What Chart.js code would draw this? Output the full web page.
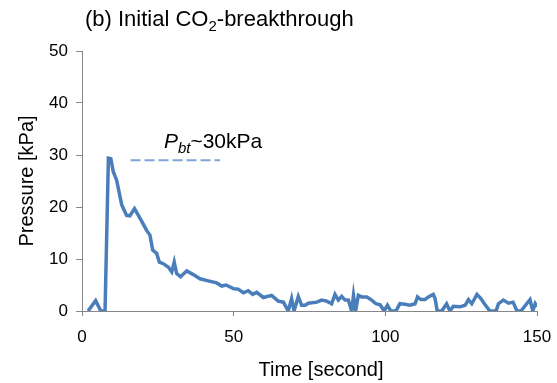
<!DOCTYPE html>
<html>
<head>
<meta charset="utf-8">
<script src="https://cdn.jsdelivr.net/npm/chart.js@4/dist/chart.umd.min.js"></script>
<style>
  html, body { margin: 0; padding: 0; background: #fff; }
  #chart { display: block; }
</style>
</head>
<body>
<canvas id="chart" width="557" height="383"></canvas>
<script>
// Pressure trace (time in s, pressure in kPa)
const timeSec = [
  2, 4.5, 6.2, 7.6, 8.7, 9.5, 10.3, 11.4, 13.1, 14.7,
  15.8, 17.3, 18.6, 20.2, 21.3, 22.4, 23.3, 24.6, 25.5, 26.8,
  28.5, 29.6, 30.4, 31.2, 32.5, 34.5, 36.7, 38.9, 41.6, 44.4,
  46.1, 47.5, 49.9, 51.5, 53.2, 54.8, 56.3, 57.6, 59.8, 62.5,
  64.7, 66.4, 68.0, 69.1, 69.9, 71.3, 72.4, 73.6, 74.6, 77.4,
  79.0, 80.7, 82.3, 83.4, 84.5, 85.6, 86.7, 87.8, 88.9, 89.5,
  90.2, 91.1, 92.2, 93.9, 95.5, 96.9, 98.3, 99.6, 100.7, 101.8,
  103.5, 104.8, 106.5, 108.1, 109.8, 110.6, 111.7, 113.1, 114.2, 115.8,
  116.4, 117.1, 118.6, 120.2, 121.3, 122.4, 124.6, 126.3, 127.4, 128.5,
  130.2, 131.5, 132.9, 133.8, 134.5, 136.5, 137.3, 138.9, 140.6, 142.1,
  143.4, 144.7, 146.6, 147.7, 148.6, 149.4, 150
];
const pressureKPa = [
  0, 2, 0, 0, 29.4, 29.3, 26.8, 25.2, 20.4, 18.4,
  18.3, 19.7, 18.4, 16.7, 15.5, 14.6, 11.7, 11.1, 9.4, 9.1,
  8.4, 7.5, 9.4, 7.2, 6.6, 7.7, 7.0, 6.2, 5.8, 5.4,
  4.8, 5.0, 4.3, 4.2, 3.5, 3.9, 3.2, 3.6, 2.6, 3.0,
  1.9, 1.7, 0, 2.4, 0, 2.8, 1.1, 1.1, 1.5, 1.7,
  2.1, 1.9, 1.4, 3.2, 2.1, 2.8, 2.1, 2.1, 0, 3.0,
  0, 3.0, 2.7, 2.7, 2.1, 1.4, 1.2, 0, 1.1, 0,
  0, 1.4, 1.3, 1.1, 1.4, 2.7, 2.2, 2.2, 2.7, 3.2,
  2.4, 0, 0, 1.4, 0, 0.9, 0.8, 1.1, 2.2, 1.4,
  3.2, 2.4, 1.2, 0.5, 0, 0, 1.4, 2.1, 1.5, 1.7,
  0, 0, 1.4, 2.2, 0, 1.4, 0.8
];

// Breakthrough pressure guide line
const pbtTime = [16, 45.5];
const pbtLevel = [29, 29];
const pbtLabelAt = [27, 31.3]; // [time, pressure] where the label starts

const xTicks = [0, 50, 100, 150];
const yTicks = [0, 10, 20, 30, 40, 50];

const FONT = '"Liberation Sans", Arial, sans-serif';
const AXIS_GREY = '#868686';

function toPoints(xs, ys) {
  return xs.map((x, i) => ({ x: x, y: ys[i] }));
}

// draw a list of text runs one after another
function drawRuns(ctx, x, y, runs) {
  runs.forEach(run => {
    ctx.font = run.font;
    ctx.fillText(run.text, x, y + (run.dy || 0));
    x += ctx.measureText(run.text).width;
  });
}

const textPlugin = {
  id: 'texts',
  afterDraw(chart) {
    const ctx = chart.ctx;
    ctx.save();
    ctx.fillStyle = '#000';
    ctx.textBaseline = 'alphabetic';
    ctx.textAlign = 'left';

    // title
    drawRuns(ctx, 85, 26, [
      { text: '(b) Initial CO', font: '22px ' + FONT },
      { text: '2', font: '15px ' + FONT, dy: 5 },
      { text: '-breakthrough', font: '22px ' + FONT }
    ]);

    // P_bt label
    const lx = chart.scales.x.getPixelForValue(pbtLabelAt[0]);
    const ly = chart.scales.y.getPixelForValue(pbtLabelAt[1]);
    drawRuns(ctx, lx, ly, [
      { text: 'P', font: 'italic 21px ' + FONT },
      { text: 'bt', font: 'italic 15px ' + FONT, dy: 5 },
      { text: '~30kPa', font: '21px ' + FONT }
    ]);

    // axis titles
    ctx.font = '20px ' + FONT;
    ctx.textAlign = 'center';
    ctx.textBaseline = 'middle';
    ctx.fillText('Time [second]', 321, 370);
    ctx.translate(27, 181);
    ctx.rotate(-Math.PI / 2);
    ctx.fillText('Pressure [kPa]', 0, 0);
    ctx.restore();
  }
};

new Chart(document.getElementById('chart'), {
  type: 'scatter',
  data: {
    datasets: [
      {
        data: toPoints(timeSec, pressureKPa),
        showLine: true,
        borderColor: '#4a7ebb',
        borderWidth: 3.5,
        pointRadius: 0,
        tension: 0,
        order: 1
      },
      {
        data: toPoints(pbtTime, pbtLevel),
        showLine: true,
        borderColor: '#7ea6d8',
        borderWidth: 2,
        borderDash: [10, 4],
        pointRadius: 0,
        order: 0
      }
    ]
  },
  options: {
    responsive: false,
    animation: false,
    layout: { padding: { top: 51, right: 20, left: 0, bottom: 0 } },
    plugins: {
      legend: { display: false },
      tooltip: { enabled: false }
    },
    scales: {
      x: {
        type: 'linear',
        min: 0,
        max: 150,
        afterBuildTicks: scale => { scale.ticks = xTicks.map(v => ({ value: v })); },
        afterFit: scale => {
          scale.height = 72;
          scale.paddingLeft = 0;
          scale.paddingRight = 0;
        },
        border: { color: AXIS_GREY, width: 1 },
        grid: { display: true, drawOnChartArea: false, color: AXIS_GREY, tickLength: 5 },
        ticks: { color: '#000', font: { family: FONT, size: 17 }, padding: 11, maxRotation: 0 }
      },
      y: {
        type: 'linear',
        min: 0,
        max: 50,
        afterBuildTicks: scale => { scale.ticks = yTicks.map(v => ({ value: v })); },
        afterFit: scale => { scale.width = 82; },
        border: { color: AXIS_GREY, width: 1 },
        grid: { display: true, drawOnChartArea: false, color: AXIS_GREY, tickLength: 6 },
        ticks: { color: '#000', font: { family: FONT, size: 17 }, padding: 8 }
      }
    }
  },
  plugins: [textPlugin]
});
</script>
</body>
</html>
